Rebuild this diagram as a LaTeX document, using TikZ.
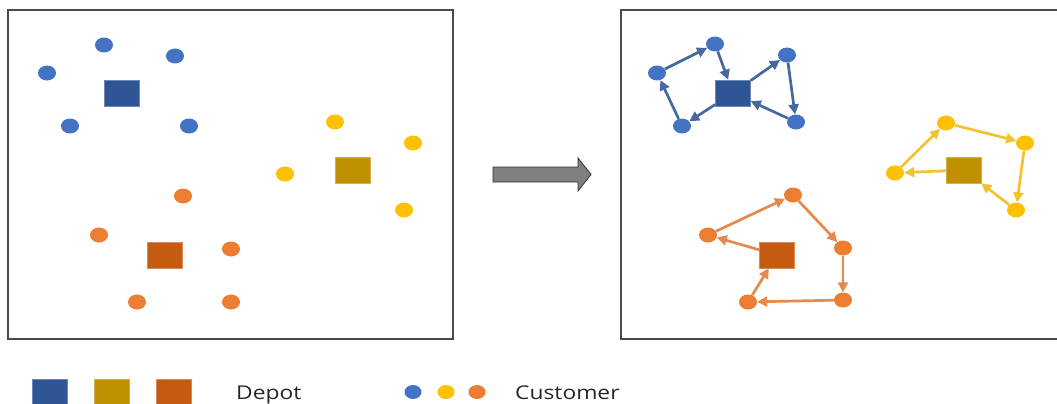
\documentclass[tikz,border=0pt]{standalone}
\usepackage{fontspec}
\newfontfamily\legendfont[FakeStretch=1.2]{Open Sans}
\usetikzlibrary{shapes.geometric,arrows.meta}

\definecolor{bluec}{HTML}{4472C4}
\definecolor{blued}{HTML}{2F5597}
\definecolor{bluel}{HTML}{46689E}
\definecolor{yelc}{HTML}{FFC000}
\definecolor{yeld}{HTML}{BF9000}
\definecolor{yell}{HTML}{F2C230}
\definecolor{orac}{HTML}{ED7D31}
\definecolor{orad}{HTML}{C55A11}
\definecolor{oral}{HTML}{E58A4E}
\definecolor{framec}{HTML}{4A4A4A}

\tikzset{
  cust/.style={ellipse, minimum width=18pt, minimum height=15pt, inner sep=0pt, fill=#1, draw=none},
  depot/.style={rectangle, minimum width=35pt, minimum height=26pt, inner sep=0pt, fill=#1, draw=#1!70!white, line width=0.6pt},
  panel/.style={draw=framec, line width=1.3pt},
  route/.style={draw=#1, line width=2.7pt, -{Triangle[length=10pt,width=10pt]}},
  blockarrow/.style={draw=black!80, fill=black!50, line width=0.8pt, line join=miter},
  legend/.style={font=\legendfont\fontsize{19}{21}\selectfont, text=black!85, anchor=base west, inner sep=0pt}
}

\begin{document}
\begin{tikzpicture}[x=1pt, y=-1pt]
\useasboundingbox (0,0) rectangle (1057,404);

% frames
\draw[panel] (8,10) rectangle (453,339);
\draw[panel] (621,10) rectangle (1062,339);

% ---------- left panel: unrouted instance ----------
\node[depot=blued] (lbd) at (122,93) {};
\node[cust=bluec] (lb1) at (104,45) {};
\node[cust=bluec] (lb2) at (175,56) {};
\node[cust=bluec] (lb3) at (47,73) {};
\node[cust=bluec] (lb4) at (70,126) {};
\node[cust=bluec] (lb5) at (189,126) {};

\node[depot=yeld] (lyd) at (353,170) {};
\node[cust=yelc] (ly1) at (335,122) {};
\node[cust=yelc] (ly2) at (413,143) {};
\node[cust=yelc] (ly3) at (285,174) {};
\node[cust=yelc] (ly4) at (404,210) {};

\node[depot=orad] (lod) at (165,255) {};
\node[cust=orac] (lo1) at (183,196) {};
\node[cust=orac] (lo2) at (99,235) {};
\node[cust=orac] (lo3) at (231,249) {};
\node[cust=orac] (lo4) at (137,302) {};
\node[cust=orac] (lo5) at (231,302) {};

% ---------- block arrow between the panels ----------
\draw[blockarrow] (493,167) -- (578,167) -- (578,158) -- (591,174.5)
  -- (578,191) -- (578,182) -- (493,182) -- cycle;

% ---------- right panel: routed solution ----------
\node[depot=blued] (rbd) at (733,93) {};
\node[cust=bluec] (rb1) at (682,126) {};
\node[cust=bluec] (rb2) at (657,73) {};
\node[cust=bluec] (rb3) at (715,44) {};
\node[cust=bluec] (rb4) at (787,55) {};
\node[cust=bluec] (rb5) at (796,122) {};
\draw[route=bluel] (rbd) -- (rb1);
\draw[route=bluel] (rb1) -- (rb2);
\draw[route=bluel] (rb2) -- (rb3);
\draw[route=bluel] (rb3) -- (rbd);
\draw[route=bluel] (rbd) -- (rb4);
\draw[route=bluel] (rb4) -- (rb5);
\draw[route=bluel] (rb5) -- (rbd);

\node[depot=yeld] (ryd) at (964,170) {};
\node[cust=yelc] (ry1) at (895,173) {};
\node[cust=yelc] (ry2) at (946,123) {};
\node[cust=yelc] (ry3) at (1025,143) {};
\node[cust=yelc] (ry4) at (1016,210) {};
\draw[route=yell] (ryd) -- (ry1);
\draw[route=yell] (ry1) -- (ry2);
\draw[route=yell] (ry2) -- (ry3);
\draw[route=yell] (ry3) -- (ry4);
\draw[route=yell] (ry4) -- (ryd);

\node[depot=orad] (rod) at (777,255) {};
\node[cust=orac] (ro1) at (708,235) {};
\node[cust=orac] (ro2) at (793,195) {};
\node[cust=orac] (ro3) at (843,248) {};
\node[cust=orac] (ro4) at (843,300) {};
\node[cust=orac] (ro5) at (748,302) {};
\draw[route=oral] (rod) -- (ro1);
\draw[route=oral] (ro1) -- (ro2);
\draw[route=oral] (ro2) -- (ro3);
\draw[route=oral] (ro3) -- (ro4);
\draw[route=oral] (ro4) -- (ro5);
\draw[route=oral] (ro5) -- (rod);

% ---------- legend ----------
\node[depot=blued, minimum height=30pt] (kbd) at (49.5,394) {};
\node[depot=yeld, minimum height=30pt] (kyd) at (111.5,394) {};
\node[depot=orad, minimum height=30pt] (kod) at (173.5,394) {};
\node[legend] (kdepot) at (236,399) {Depot};

\node[cust=bluec, minimum width=17pt, minimum height=14pt] (kbc) at (413,392) {};
\node[cust=yelc, minimum width=17pt, minimum height=14pt] (kyc) at (446,392) {};
\node[cust=orac, minimum width=17pt, minimum height=14pt] (koc) at (477,392) {};
\node[legend] (kcust) at (515,399) {Customer};
\end{tikzpicture}
\end{document}
